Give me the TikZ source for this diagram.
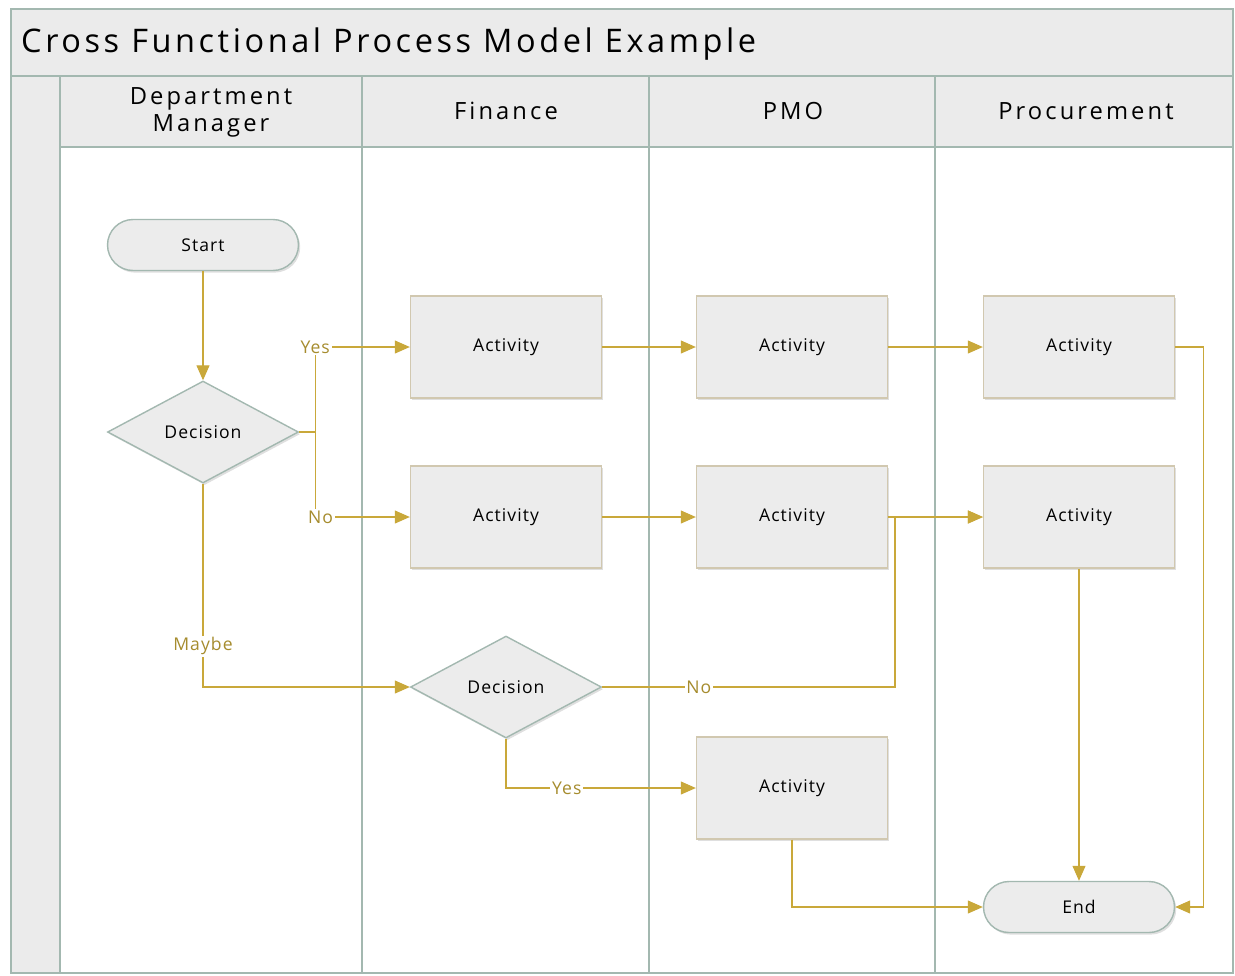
\documentclass[tikz,border=0pt]{standalone}
\usepackage{fontspec}
\setmainfont{Open Sans}
\newfontfamily\titlefont{Open Sans}[LetterSpace=11]
\newfontfamily\headfont{Open Sans}[LetterSpace=13]
\newfontfamily\boxfont{Open Sans}[LetterSpace=6]
\usetikzlibrary{positioning,shapes.geometric,shadows,arrows.meta}
\definecolor{lanegray}{HTML}{A3B8B0}
\definecolor{headfill}{HTML}{EBEBEB}
\definecolor{boxfill}{HTML}{ECECEC}
\definecolor{boxedge}{HTML}{D1C8B0}
\definecolor{flowgold}{HTML}{C9A83A}
\definecolor{labelgold}{HTML}{A68C2E}
\tikzset{activity/.style={rectangle,fill=boxfill,draw=boxedge,line width=0.8pt,minimum width=3.82cm,minimum height=2.04cm,inner sep=0pt,drop shadow={opacity=0.25,shadow xshift=1pt,shadow yshift=-1.2pt},font=\boxfont\fontsize{10}{12}\selectfont},
decision/.style={diamond,fill=boxfill,draw=lanegray,line width=0.8pt,minimum width=3.82cm,minimum height=2.04cm,inner sep=0pt,drop shadow={opacity=0.25,shadow xshift=1pt,shadow yshift=-1.2pt},font=\boxfont\fontsize{10}{12}\selectfont},
terminal/.style={rectangle,rounded corners=0.51cm,fill=boxfill,draw=lanegray,line width=0.8pt,minimum width=3.82cm,minimum height=1.02cm,inner sep=0pt,drop shadow={opacity=0.25,shadow xshift=1pt,shadow yshift=-1.2pt},font=\boxfont\fontsize{10}{12}\selectfont},
lanehead/.style={align=center,font=\headfont\fontsize{13.5}{15.5}\selectfont},
lane/.style={draw=lanegray,line width=1.3pt},
flow/.style={draw=flowgold,line width=0.6pt,-{Triangle[length=0.3cm,width=0.26cm]}},
answer/.style={text=labelgold,fill=white,inner sep=1pt,font=\boxfont\fontsize{10}{12}\selectfont},
}

\begin{document}
\begin{tikzpicture}[x=0.02cm,y=-0.02cm]
\useasboundingbox (0,0) rectangle (1235,975);
% pool and lanes
\fill[headfill] (11,9) rectangle (1233,76);
\fill[headfill] (11,76) rectangle (60,973);
\fill[headfill] (60,76) rectangle (1233,147);
\draw[lane] (11,9) rectangle (1233,973);
\draw[lane] (11,76) -- (1233,76);
\draw[lane] (60,147) -- (1233,147);
\foreach \x in {60,362,649,935}
  \draw[lane] (\x,76) -- (\x,973);

\node[anchor=west,font=\titlefont\fontsize{18.5}{22}\selectfont] (title) at (15,44) {Cross Functional Process Model Example};
\node[lanehead] (hdm) at (211,112) {Department\\Manager};
\node[lanehead] (hfin) at (506,111) {Finance};
\node[lanehead] (hpmo) at (793,111) {PMO};
\node[lanehead] (hproc) at (1086,111) {Procurement};

% shapes
\node[terminal] (start) at (203,245) {Start};
\node[decision] (dec1) at (203,432) {Decision};
\node[activity] (act11) at (506,347) {Activity};
\node[activity] (act12) at (792,347) {Activity};
\node[activity] (act13) at (1079,347) {Activity};
\node[activity] (act21) at (506,517) {Activity};
\node[activity] (act22) at (792,517) {Activity};
\node[activity] (act23) at (1079,517) {Activity};
\node[decision] (dec2) at (506,687) {Decision};
\node[activity] (act4) at (792,788) {Activity};
\node[terminal] (end) at (1079,907) {End};
\coordinate (noturn) at (895,687);

% connectors
\draw[flow] (start) -- (dec1);
\draw[flow] (dec1.east) -- ++(16,0) |- node[pos=0.5,answer] {Yes} (act11.west);
\draw[flow] (dec1.east) -- ++(16,0) |- node[pos=0.5,answer,xshift=3pt] {No} (act21.west);
\draw[flow] (dec1.south) |- node[pos=0.4,answer] {Maybe} (dec2.west);
\draw[flow] (act11) -- (act12);
\draw[flow] (act12) -- (act13);
\draw[flow] (act21) -- (act22);
\draw[flow] (act22) -- (act23);
\draw[flow] (dec2.east) -- node[pos=0.33,answer] {No} (noturn) |- (act23.west);
\draw[flow] (dec2.south) |- node[pos=0.66,answer] {Yes} (act4.west);
\draw[flow] (act13.east) -- ++(28,0) |- (end.east);
\draw[flow] (act23) -- (end);
\draw[flow] (act4.south) |- (end.west);
\end{tikzpicture}
\end{document}
